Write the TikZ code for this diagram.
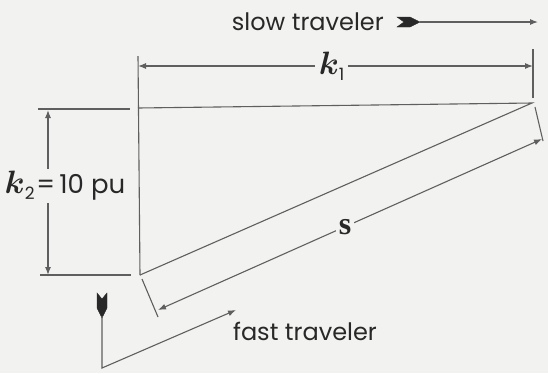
\documentclass[tikz,border=0pt]{standalone}
\usepackage{graphicx}
\usepackage{fontspec}
\setmainfont{Poppins}
\newfontfamily\bserif{Liberation Serif}
\usetikzlibrary{arrows.meta}
\definecolor{bg}{RGB}{242,242,240}
\definecolor{ln}{RGB}{95,95,95}
\definecolor{tx}{RGB}{40,40,40}
\newcommand{\bk}{\scalebox{1.3}{\fontsize{24.88}{26}\selectfont\boldmath$k$}}
\newcommand{\subn}[1]{\raisebox{-6pt}{\fontsize{17}{17}\selectfont #1}}
\newcommand{\bs}{{\bserif\bfseries\fontsize{32}{34}\selectfont s}}
\tikzset{
  ln/.style={draw=ln, line width=1.1pt},
  tip/.style={-{Latex[length=8pt,width=6pt]}},
  dim/.style={ln, {Latex[length=8pt,width=6pt]}-{Latex[length=8pt,width=6pt]}},
  lbl/.style={text=tx, font=\fontsize{24}{28}\selectfont, inner sep=1pt},
  mlbl/.style={text=tx, fill=bg, inner sep=2pt},
  fletch/.style={fill=tx, draw=tx, line width=0.4pt}
}
\begin{document}
\begin{tikzpicture}[x=1pt,y=-1pt]
\fill[bg] (0,0) rectangle (548,373);
\useasboundingbox (0,0) rectangle (548,373);
% triangle vertices
\coordinate (A) at (138,108);
\coordinate (B) at (532,103);
\coordinate (C) at (140,275);
\coordinate (At) at (138,56);
\coordinate (Bt) at (533,49);
\coordinate (Bb) at (533,98);
% triangle and extension lines
\draw[ln] (At) -- (C);
\draw[ln] (A) -- (B) -- (C);
\draw[ln] (Bt) -- (Bb);
\coordinate (E1a) at (38,109); \coordinate (E1b) at (130,109);
\coordinate (E2a) at (40,275); \coordinate (E2b) at (131,275);
\draw[ln] (E1a) -- (E1b);
\draw[ln] (E2a) -- (E2b);
\coordinate (S1a) at (142,279); \coordinate (S1b) at (158,317);
\coordinate (S2a) at (535,107); \coordinate (S2b) at (543,141);
\draw[ln] (S1a) -- (S1b);
\draw[ln] (S2a) -- (S2b);
% k1 dimension
\coordinate (K1a) at (138,66); \coordinate (K1b) at (533,66);
\draw[dim] (K1a) -- node[pos=0.49, mlbl, inner xsep=4pt, inner ysep=0pt] (k1) {\bk\subn{1}} (K1b);
% k2 dimension
\coordinate (K2a) at (48,110); \coordinate (K2b) at (48,275);
\draw[dim] (K2a) -- (K2b);
\node[mlbl, inner xsep=1pt, inner ysep=2pt] (k2) at (65,186) {\bk\subn{2}\,{\fontsize{26}{28}\selectfont=\,10 pu}};
% s dimension
\coordinate (Sa) at (158,310); \coordinate (Sb) at (542,139);
\draw[dim] (Sa) -- node[pos=0.487, mlbl, inner sep=3pt] (s) {\bs} (Sb);
% slow traveler
\node[lbl, anchor=east] (slow) at (385,22) {slow traveler};
\coordinate (Ws) at (420,22); \coordinate (We) at (538,22);
\fill[fletch] (397,17) -- (410,17) -- (420,22) -- (410,27) -- (397,27) -- (404,22) -- cycle;
\draw[ln, tip] (Ws) -- (We);
% fast traveler
\node[lbl] (fast) at (305,331) {fast traveler};
\fill[fletch] (97,293) -- (102,299) -- (107,293) -- (107,308) -- (102,318) -- (97,308) -- cycle;
\coordinate (F1) at (102,316); \coordinate (F2) at (102,368); \coordinate (F3) at (236,310);
\draw[ln, tip] (F1) -- (F2) -- (F3);
\end{tikzpicture}
\end{document}
